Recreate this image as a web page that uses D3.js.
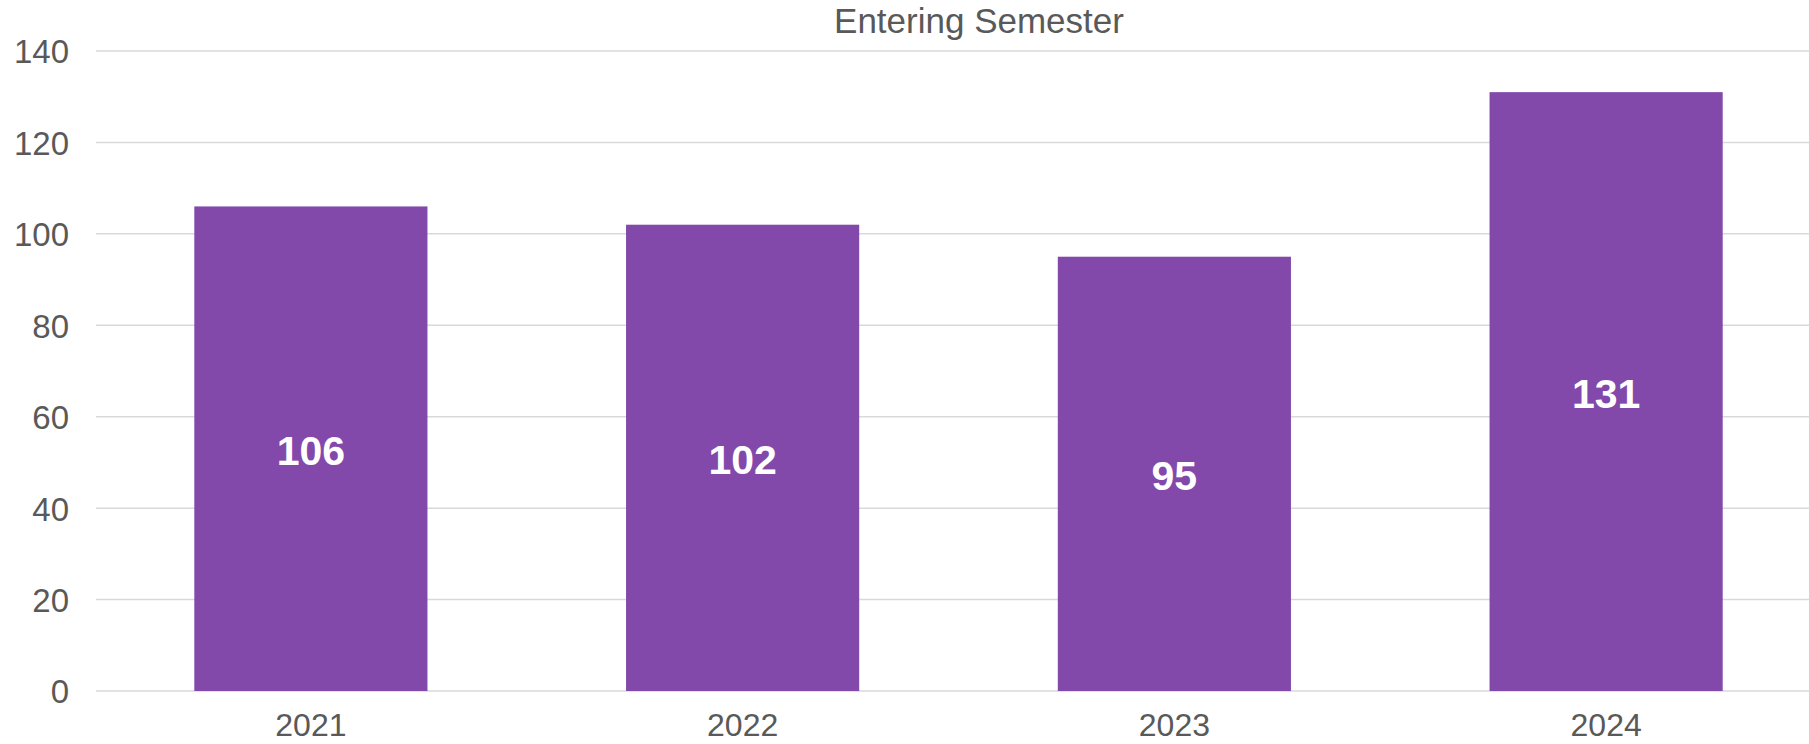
<!DOCTYPE html>
<html><head><meta charset="utf-8">
<script src="https://cdn.jsdelivr.net/npm/d3@7"></script>
<style>body{margin:0;background:#fff}svg{display:block}</style>
</head><body>
<svg id="c" width="1809" height="744"></svg>
<script>
const categories = ["2021", "2022", "2023", "2024"];
const values = [106, 102, 95, 131];
const yTicks = [0, 20, 40, 60, 80, 100, 120, 140];
const title = "Entering Semester";

const svg = d3.select("#c");
const font = "Arial, 'Liberation Sans', sans-serif";
const x = d3.scaleBand().domain(categories).range([95, 1822]).paddingInner(0.46).paddingOuter(0.23);
const y = d3.scaleLinear().domain([0, 140]).range([691, 51]);

svg.append("g").selectAll("line").data(yTicks).join("line")
  .attr("x1", 96).attr("x2", 1809)
  .attr("y1", d => y(d)).attr("y2", d => y(d))
  .attr("stroke", "#d9d9d9").attr("stroke-width", 1.5);

const yAxis = d3.axisLeft(y).tickValues(yTicks).tickSize(0).tickPadding(0);
const ga = svg.append("g").attr("transform", "translate(69,0)").call(yAxis);
ga.select(".domain").remove();
ga.selectAll("text").attr("font-family", font).attr("font-size", 33).attr("fill", "#595959").attr("dy", "0.36em");

svg.append("g").selectAll("rect").data(values).join("rect")
  .attr("x", (d, i) => x(categories[i]))
  .attr("width", x.bandwidth())
  .attr("y", d => y(d))
  .attr("height", d => y(0) - y(d))
  .attr("fill", "#8249ab");

svg.append("g").selectAll("text").data(values).join("text")
  .attr("x", (d, i) => x(categories[i]) + x.bandwidth() / 2)
  .attr("y", d => y(d / 2))
  .attr("dy", "0.4em")
  .attr("text-anchor", "middle")
  .attr("font-family", font).attr("font-weight", "bold").attr("font-size", 41)
  .attr("fill", "#fff")
  .text(d => d);

const xAxis = d3.axisBottom(x).tickSize(0).tickPadding(0);
const gx = svg.append("g").attr("transform", "translate(0,736)").call(xAxis);
gx.select(".domain").remove();
gx.selectAll("text").attr("font-family", font).attr("font-size", 32).attr("fill", "#595959").attr("dy", 0);

svg.append("text").attr("x", 979).attr("y", 33).attr("text-anchor", "middle")
  .attr("font-family", font).attr("font-size", 35).attr("fill", "#595959").text(title);
</script>
</body></html>
